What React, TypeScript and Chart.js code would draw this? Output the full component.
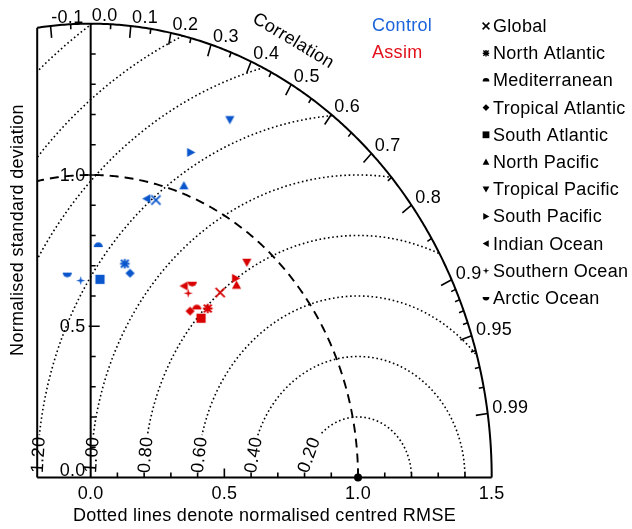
import React, { useEffect, useRef } from "react";
import { Chart, registerables } from "chart.js";
Chart.register(...registerables);

// ---------------- data ----------------
const regions = [
  "Global", "North Atlantic", "Mediterranean", "Tropical Atlantic", "South Atlantic",
  "North Pacific", "Tropical Pacific", "South Pacific", "Indian Ocean", "Southern Ocean", "Arctic Ocean",
];
const markerShapes = [
  "cross", "asterisk", "halfTop", "diamond", "square",
  "triUp", "triDown", "triRight", "triLeft", "star4", "halfBottom",
];
const controlStd = [0.949, 0.718, 0.767, 0.691, 0.656, 1.026, 1.292, 1.138, 0.945, 0.652, 0.678];
const controlCorr = [0.257, 0.178, 0.037, 0.213, 0.053, 0.340, 0.403, 0.329, 0.222, -0.057, -0.129];
const assimStd = [0.780, 0.710, 0.687, 0.664, 0.669, 0.838, 0.920, 0.853, 0.723, 0.710, 0.746];
const assimCorr = [0.621, 0.617, 0.578, 0.560, 0.617, 0.651, 0.635, 0.636, 0.483, 0.514, 0.509];
const seriesNames = ["Control", "Assim"];
const seriesColors = ["rgb(10,86,204)", "rgb(216,0,0)"];
const seriesTextColors = ["rgb(28,100,218)", "rgb(226,16,26)"];

const corrMajorTicks = [-0.1, 0, 0.1, 0.2, 0.3, 0.4, 0.5, 0.6, 0.7, 0.8, 0.9, 0.95, 0.99];
const corrMajorLabels = ["-0.1", "0.0", "0.1", "0.2", "0.3", "0.4", "0.5", "0.6", "0.7", "0.8", "0.9", "0.95", "0.99"];
const corrMinorTicks = [-0.05, 0.05, 0.15, 0.25, 0.35, 0.45, 0.55, 0.65, 0.75, 0.85, 0.91, 0.92, 0.93, 0.94, 0.96, 0.97, 0.98];
const rmseRadii = [0.2, 0.4, 0.6, 0.8, 1.0, 1.2, 1.4, 1.6, 1.8];
const rmseLabelRadii = [0.2, 0.4, 0.6, 0.8, 1.0, 1.2];
const rmseLabels = ["0.20", "0.40", "0.60", "0.80", "1.00", "1.20"];
const xTickValues = [0, 0.5, 1.0, 1.5];
const xTickLabels = ["0.0", "0.5", "1.0", "1.5"];
const yTickValues = [0, 0.5, 1.0];
const yTickLabels = ["0.0", "0.5", "1.0"];
const minorStdTicks = [0.1, 0.2, 0.3, 0.4, 0.6, 0.7, 0.8, 0.9, 1.1, 1.2, 1.3, 1.4];
const majorStdTicks = [0.5, 1.0];

const STD_MAX = 1.5;
const X_MIN = -0.2;
const REF_STD = 1.0;
const xTitle = "Dotted lines denote normalised centred RMSE";
const yTitle = "Normalised standard deviation";
const corrTitle = "Correlation";

const FONT = "18px 'Liberation Sans', Arial, Helvetica, sans-serif";

// ---------------- marker drawing ----------------
function drawShape(g: CanvasRenderingContext2D, type: string, s: number) {
  g.beginPath();
  g.lineCap = "butt";
  switch (type) {
    case "cross":
      g.lineWidth = Math.max(1.5, s * 0.38);
      g.moveTo(-s, -s); g.lineTo(s, s); g.moveTo(-s, s); g.lineTo(s, -s);
      g.stroke();
      break;
    case "asterisk": {
      g.lineWidth = Math.max(1.4, s * 0.4);
      for (let k = 0; k < 4; k++) {
        const a = (k * Math.PI) / 4;
        const rr = k % 2 === 0 ? s * 0.95 : s * 1.1;
        g.moveTo(-Math.cos(a) * rr, -Math.sin(a) * rr);
        g.lineTo(Math.cos(a) * rr, Math.sin(a) * rr);
      }
      g.stroke();
      break;
    }
    case "halfTop":
      g.arc(0, s * 0.3, s, Math.PI, 2 * Math.PI);
      g.closePath(); g.fill();
      break;
    case "halfBottom":
      g.arc(0, -s * 0.3, s, 0, Math.PI);
      g.closePath(); g.fill();
      break;
    case "diamond":
      g.moveTo(0, -s); g.lineTo(s, 0); g.lineTo(0, s); g.lineTo(-s, 0);
      g.closePath(); g.fill();
      break;
    case "square":
      g.rect(-s, -s, 2 * s, 2 * s); g.fill();
      break;
    case "triUp":
      g.moveTo(0, -s); g.lineTo(s, s * 0.8); g.lineTo(-s, s * 0.8);
      g.closePath(); g.fill();
      break;
    case "triDown":
      g.moveTo(0, s); g.lineTo(s, -s * 0.8); g.lineTo(-s, -s * 0.8);
      g.closePath(); g.fill();
      break;
    case "triRight":
      g.moveTo(s, 0); g.lineTo(-s * 0.8, -s); g.lineTo(-s * 0.8, s);
      g.closePath(); g.fill();
      break;
    case "triLeft":
      g.moveTo(-s, 0); g.lineTo(s * 0.8, -s); g.lineTo(s * 0.8, s);
      g.closePath(); g.fill();
      break;
    case "star4": {
      const inner = s * 0.3;
      for (let k = 0; k < 8; k++) {
        const a = (k * Math.PI) / 4 - Math.PI / 2;
        const rr = k % 2 === 0 ? s : inner;
        const px = Math.cos(a) * rr, py = Math.sin(a) * rr;
        if (k === 0) g.moveTo(px, py); else g.lineTo(px, py);
      }
      g.closePath(); g.fill();
      break;
    }
  }
}

function makeMarker(type: string, color: string, s: number): HTMLCanvasElement {
  const c = document.createElement("canvas");
  const N = 2 * Math.ceil(s) + 5;
  c.width = N; c.height = N;
  const g = c.getContext("2d")!;
  g.translate(N / 2, N / 2);
  g.fillStyle = color; g.strokeStyle = color;
  drawShape(g, type, s);
  return c;
}

// ---------------- plugin drawing the Taylor frame ----------------
const taylorPlugin = {
  id: "taylorFrame",
  beforeDatasetsDraw(chart: any) {
    const ctx: CanvasRenderingContext2D = chart.ctx;
    const xs = chart.scales.x, ys = chart.scales.y;
    const P = (x: number, y: number): [number, number] => [xs.getPixelForValue(x), ys.getPixelForValue(y)];
    const thMax = Math.acos(X_MIN / STD_MAX);
    const [ox, oy] = P(0, 0);

    ctx.save();
    // clip to the diagram region
    ctx.beginPath();
    ctx.moveTo(...P(X_MIN, 0));
    ctx.lineTo(...P(STD_MAX, 0));
    for (let i = 0; i <= 300; i++) {
      const th = (thMax * i) / 300;
      ctx.lineTo(...P(STD_MAX * Math.cos(th), STD_MAX * Math.sin(th)));
    }
    ctx.closePath();
    ctx.clip();

    // dotted RMSE circles centred at the reference point
    ctx.strokeStyle = "#000";
    ctx.lineWidth = 1.6;
    ctx.setLineDash([1.6, 2.7]);
    const gap = 0.14;
    for (const r of rmseRadii) {
      const phiEnd = Math.PI - Math.asin(Math.min(1, gap / r));
      ctx.beginPath();
      const n = 500;
      for (let i = 0; i <= n; i++) {
        const ph = (phiEnd * i) / n;
        const p = P(REF_STD + r * Math.cos(ph), r * Math.sin(ph));
        if (i === 0) ctx.moveTo(...p); else ctx.lineTo(...p);
      }
      ctx.stroke();
    }

    // dashed reference std circle
    ctx.setLineDash([9, 6]);
    ctx.lineWidth = 1.9;
    ctx.beginPath();
    const thRef = Math.acos(X_MIN / REF_STD);
    for (let i = 0; i <= 300; i++) {
      const th = (thRef * i) / 300;
      const p = P(REF_STD * Math.cos(th), REF_STD * Math.sin(th));
      if (i === 0) ctx.moveTo(...p); else ctx.lineTo(...p);
    }
    ctx.stroke();
    ctx.restore();

    // solid frame
    ctx.save();
    ctx.strokeStyle = "#000";
    ctx.lineWidth = 2;
    ctx.setLineDash([]);
    ctx.beginPath();
    for (let i = 0; i <= 300; i++) {
      const th = (thMax * i) / 300;
      const p = P(STD_MAX * Math.cos(th), STD_MAX * Math.sin(th));
      if (i === 0) ctx.moveTo(...p); else ctx.lineTo(...p);
    }
    ctx.stroke();
    ctx.beginPath();
    ctx.moveTo(...P(X_MIN, 0)); ctx.lineTo(...P(STD_MAX, 0));
    ctx.moveTo(...P(0, 0)); ctx.lineTo(...P(0, STD_MAX));
    ctx.moveTo(...P(X_MIN, 0)); ctx.lineTo(...P(X_MIN, Math.sqrt(STD_MAX * STD_MAX - X_MIN * X_MIN)));
    ctx.stroke();

    // x-axis ticks (upward) and y-axis ticks (rightward)
    ctx.lineWidth = 1.6;
    ctx.beginPath();
    for (const v of minorStdTicks) {
      const [x, y] = P(v, 0); ctx.moveTo(x, y); ctx.lineTo(x, y - 5);
      const [x2, y2] = P(0, v); ctx.moveTo(x2, y2); ctx.lineTo(x2 + 5, y2);
    }
    for (const v of majorStdTicks) {
      const [x, y] = P(v, 0); ctx.moveTo(x, y); ctx.lineTo(x, y - 9);
      const [x2, y2] = P(0, v); ctx.moveTo(x2 - 2, y2); ctx.lineTo(x2 + 9, y2);
    }
    ctx.stroke();

    // correlation ticks (inward)
    const corrTick = (c: number, len: number) => {
      const th = Math.acos(c);
      const [x, y] = P(STD_MAX * Math.cos(th), STD_MAX * Math.sin(th));
      const dx = ox - x, dy = oy - y;
      const d = Math.hypot(dx, dy);
      ctx.moveTo(x, y); ctx.lineTo(x + (dx / d) * len, y + (dy / d) * len);
    };
    ctx.beginPath();
    corrMajorTicks.forEach((c) => { if (c !== 0) corrTick(c, 12); });
    corrMinorTicks.forEach((c) => corrTick(c, 5));
    ctx.stroke();

    // reference point
    ctx.fillStyle = "#000";
    ctx.beginPath();
    const [rx, ry] = P(REF_STD, 0);
    ctx.arc(rx, ry, 4, 0, Math.PI * 2);
    ctx.fill();

    // text
    ctx.font = FONT;
    (ctx as any).letterSpacing = "0.3px";
    ctx.fillStyle = "#000";

    // correlation labels
    ctx.textAlign = "left";
    ctx.textBaseline = "alphabetic";
    corrMajorTicks.forEach((c, i) => {
      const th = Math.acos(c);
      const [x, y] = P(STD_MAX * Math.cos(th), STD_MAX * Math.sin(th));
      const dx = x - ox, dy = y - oy;
      const d = Math.hypot(dx, dy);
      ctx.fillText(corrMajorLabels[i], x + (dx / d) * 3.5 + 1, y + (dy / d) * 3.5 + 0.5);
    });

    // x tick labels
    ctx.textAlign = "center";
    ctx.textBaseline = "middle";
    xTickValues.forEach((v, i) => {
      const [x, y] = P(v, 0);
      ctx.fillText(xTickLabels[i], x, y + 17);
    });
    // y tick labels
    ctx.textAlign = "right";
    yTickValues.forEach((v, i) => {
      const [x, y] = P(0, v);
      ctx.fillText(yTickLabels[i], x - 5, v === 0 ? y - 6 : y + 1);
    });

    // RMSE labels, rotated along the circles
    ctx.textAlign = "center";
    ctx.textBaseline = "middle";
    const ly = 0.075;
    rmseLabelRadii.forEach((r, i) => {
      const ph = Math.PI - Math.asin(ly / r);
      const [x, y] = P(REF_STD + r * Math.cos(ph), r * Math.sin(ph));
      const [x2, y2] = P(REF_STD + r * Math.cos(ph - 0.01), r * Math.sin(ph - 0.01));
      const ang = Math.atan2(y2 - y, x2 - x);
      ctx.save();
      ctx.translate(x, y);
      ctx.rotate(ang);
      ctx.fillText(rmseLabels[i], 0, 1);
      ctx.restore();
    });

    // "Correlation" title along the arc
    {
      const cc = 0.465, rr = 1.63;
      const th = Math.acos(cc);
      const [x, y] = P(rr * Math.cos(th), rr * Math.sin(th));
      const [x2, y2] = P(rr * Math.cos(th - 0.01), rr * Math.sin(th - 0.01));
      const ang = Math.atan2(y2 - y, x2 - x);
      ctx.save();
      ctx.translate(x, y);
      ctx.rotate(ang);
      ctx.fillText(corrTitle, 0, 0);
      ctx.restore();
    }

    // axis titles
    const ca = chart.chartArea;
    ctx.fillText(xTitle, (ca.left + ca.right) / 2, 516);
    ctx.save();
    ctx.translate(18, 230);
    ctx.rotate(-Math.PI / 2);
    ctx.fillText(yTitle, 0, 0);
    ctx.restore();

    // legend
    ctx.textAlign = "left";
    seriesNames.forEach((nm, i) => {
      ctx.fillStyle = seriesTextColors[i];
      ctx.fillText(nm, 372, 26 + i * 27.2);
    });
    regions.forEach((nm, i) => {
      const yy = 26 + i * 27.2;
      ctx.save();
      ctx.translate(486, yy);
      ctx.fillStyle = "#000"; ctx.strokeStyle = "#000";
      drawShape(ctx, markerShapes[i], 3.4);
      ctx.restore();
      ctx.fillStyle = "#000";
      ctx.font = FONT;
      ctx.textAlign = "left";
      ctx.textBaseline = "middle";
      ctx.fillText(nm, 493, yy + 1);
    });
    ctx.restore();
  },
};

function toXY(std: number[], corr: number[]) {
  return std.map((s, i) => ({ x: s * corr[i], y: s * Math.sqrt(1 - corr[i] * corr[i]) }));
}

export default function App() {
  const ref = useRef<HTMLCanvasElement | null>(null);
  useEffect(() => {
    if (!ref.current) return;
    const stds = [controlStd, assimStd];
    const corrs = [controlCorr, assimCorr];
    const datasets = seriesNames.map((nm, k) => ({
      label: nm,
      data: toXY(stds[k], corrs[k]),
      pointStyle: markerShapes.map((m) => makeMarker(m, seriesColors[k], m === "asterisk" ? 5 : 4.6)),
      pointRadius: 5,
      pointHoverRadius: 5,
      showLine: false,
      backgroundColor: seriesColors[k],
      borderColor: seriesColors[k],
    }));
    const chart = new Chart(ref.current, {
      type: "scatter",
      data: { datasets } as any,
      options: {
        animation: false,
        responsive: false,
        devicePixelRatio: 1,
        layout: { padding: { left: 37.2, right: 140.3, top: 23.7, bottom: 51.5 } },
        scales: {
          x: { type: "linear", min: X_MIN, max: STD_MAX, display: false },
          y: { type: "linear", min: 0, max: STD_MAX, display: false },
        },
        plugins: { legend: { display: false }, tooltip: { enabled: false } },
        events: [],
      } as any,
      plugins: [taylorPlugin],
    });
    return () => chart.destroy();
  }, []);
  return (
    <div style={{ position: "absolute", left: 0, top: 0, width: 632, height: 529, background: "#fff" }}>
      <canvas ref={ref} width={632} height={529} style={{ display: "block", width: 632, height: 529 }} />
    </div>
  );
}
